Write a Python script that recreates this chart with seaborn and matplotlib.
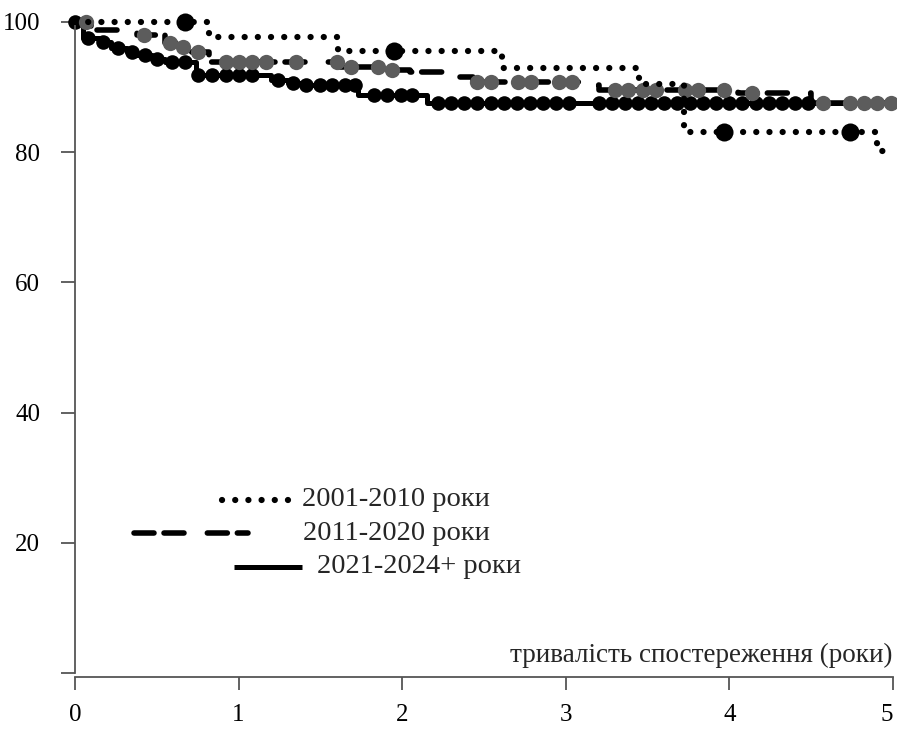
import numpy as np
import pandas as pd
import matplotlib
matplotlib.use("Agg")
import matplotlib.pyplot as plt
import seaborn as sns

sns.set_style("ticks")
plt.rcParams['font.family'] = ['Liberation Serif', 'DejaVu Serif']

# step curves: time (years) where survival changes, and survival (%) after it
dotted_t = [0, 0.82, 1.61, 2.61, 3.45, 3.72, 4.9]
dotted_s = [100, 97.7, 95.5, 92.9, 90.5, 83.1, 80.2]
dotted_cens = [0.67, 1.95, 3.97, 4.74]

dashed_t = [0, 0.1, 0.38, 0.55, 0.62, 0.7, 0.82, 1.62, 1.87, 2.05, 2.3, 2.43, 3.1, 3.2, 4.05, 4.5]
dashed_s = [100, 98.8, 98.0, 96.8, 96.2, 95.4, 93.9, 93.1, 92.6, 92.3, 91.6, 90.8, 90.3, 89.6, 89.1, 87.6]
dashed_cens = [0.07, 0.42, 0.58, 0.66, 0.75, 0.92, 1.0, 1.08, 1.17, 1.35, 1.6, 1.69, 1.85, 1.94,
               2.46, 2.54, 2.71, 2.79, 2.96, 3.04, 3.3, 3.38, 3.47, 3.55, 3.73, 3.81, 3.97, 4.14,
               4.57, 4.74, 4.82, 4.9, 4.99]

solid_t = [0, 0.05, 0.15, 0.22, 0.32, 0.38, 0.47, 0.55, 0.74, 1.2, 1.3, 1.38, 1.73, 2.15]
solid_s = [100, 97.5, 96.9, 96.0, 95.4, 95.0, 94.3, 93.9, 91.8, 91.1, 90.6, 90.3, 88.8, 87.6]
solid_cens = [0.0, 0.08, 0.17, 0.26, 0.35, 0.43, 0.5, 0.59, 0.67, 0.75, 0.84, 0.92, 1.0, 1.08,
              1.24, 1.33, 1.41, 1.5, 1.57, 1.65, 1.71, 1.83, 1.91, 1.99, 2.06,
              2.22, 2.3, 2.38, 2.46, 2.54, 2.62, 2.7, 2.78, 2.86, 2.94, 3.02,
              3.2, 3.28, 3.36, 3.44, 3.52, 3.6, 3.68, 3.76, 3.84, 3.92, 4.0, 4.08,
              4.16, 4.24, 4.32, 4.4, 4.48]

labels = ["2001-2010 роки", "2011-2020 роки", "2021-2024+ роки"]
x_ticks = [0, 1, 2, 3, 4, 5]
y_ticks = [0, 20, 40, 60, 80, 100]
y_ticklabels = ["", "20", "40", "60", "80", "100"]
x_label = "тривалість спостереження (роки)"

GRAY = "#5c5c5c"
AX = "#555555"


def step_df(t, s, end=5.0):
    # extend the last level to the end of follow-up
    return pd.DataFrame({"t": list(t) + [end], "s": list(s) + [s[-1]]})


def cens_df(t, s, cens):
    idx = np.searchsorted(t, cens, side="right") - 1
    return pd.DataFrame({"t": cens, "s": np.array(s)[idx]})


fig = plt.figure(figsize=(8.97, 7.29), dpi=100)
ax = fig.add_axes([75 / 897, 1 - 673 / 729, 818 / 897, 651 / 729])

dot_style = dict(linestyle=(0, (0.01, 2.1)), dash_capstyle="round", lw=4.5, color="black")
dash_style = dict(linestyle=(0, (3.6, 1.8, 3.6, 4.2)), dash_capstyle="round", lw=4.0, color="black")
solid_style = dict(linestyle="-", lw=3.6, color="black", solid_capstyle="butt")

# solid series
sns.lineplot(data=step_df(solid_t, solid_s), x="t", y="s", ax=ax, drawstyle="steps-post",
             estimator=None, sort=False, clip_on=False, zorder=2, **solid_style)
c = cens_df(solid_t, solid_s, solid_cens)
ax.plot(c["t"], c["s"], "o", ms=10.5, color="black", mew=0, clip_on=False, zorder=2)

# dashed series
sns.lineplot(data=step_df(dashed_t, dashed_s), x="t", y="s", ax=ax, drawstyle="steps-post",
             estimator=None, sort=False, clip_on=False, zorder=3, **dash_style)
c = cens_df(dashed_t, dashed_s, dashed_cens)
ax.plot(c["t"], c["s"], "o", ms=11, color=GRAY, mew=0, clip_on=False, zorder=3)

# dotted series
sns.lineplot(data=step_df(dotted_t, dotted_s), x="t", y="s", ax=ax, drawstyle="steps-post",
             estimator=None, sort=False, clip_on=False, zorder=4, **dot_style)
c = cens_df(dotted_t, dotted_s, dotted_cens)
ax.plot(c["t"], c["s"], "o", ms=13, color="black", mew=0, clip_on=False, zorder=4)

ax.set_xlim(0, 5)
ax.set_ylim(0, 100)
ax.set_xticks(x_ticks)
ax.set_xticklabels([str(v) for v in x_ticks])
ax.set_yticks(y_ticks)
ax.set_yticklabels(y_ticklabels)
ax.set_xlabel("")
ax.set_ylabel("")

for side in ["top", "right"]:
    ax.spines[side].set_visible(False)
for side in ["left", "bottom"]:
    ax.spines[side].set_color(AX)
    ax.spines[side].set_linewidth(1.3)
ax.spines["bottom"].set_position(("outward", 3))
ax.tick_params(axis="y", length=10, width=1.3, color=AX, pad=15, labelsize=18, labelcolor="black")
ax.tick_params(axis="x", length=9.5, width=1.3, color=AX, pad=10, labelsize=18, labelcolor="black")
# last label sits at the figure edge; keep it inside
ax.get_xticklabels()[-1].set_horizontalalignment("right")

ax.text(1.0, 0.027, x_label, transform=ax.transAxes, ha="right", va="center", fontsize=19.5)

# hand-placed legend, as in the original
leg_rows = [
    ((0.180, 0.262), 0.266, 0.278, dot_style),
    ((0.072, 0.212), 0.215, 0.279, dash_style),
    ((0.194, 0.278), 0.163, 0.296, solid_style),
]
for lab, ((x0, x1), y, tx, st) in zip(labels, leg_rows):
    ax.plot([x0, x1], [y, y], transform=ax.transAxes, clip_on=False, **st)
    ax.text(tx, y, lab, transform=ax.transAxes, ha="left", va="center", fontsize=20.5)

fig.savefig("out.png", dpi=100)
